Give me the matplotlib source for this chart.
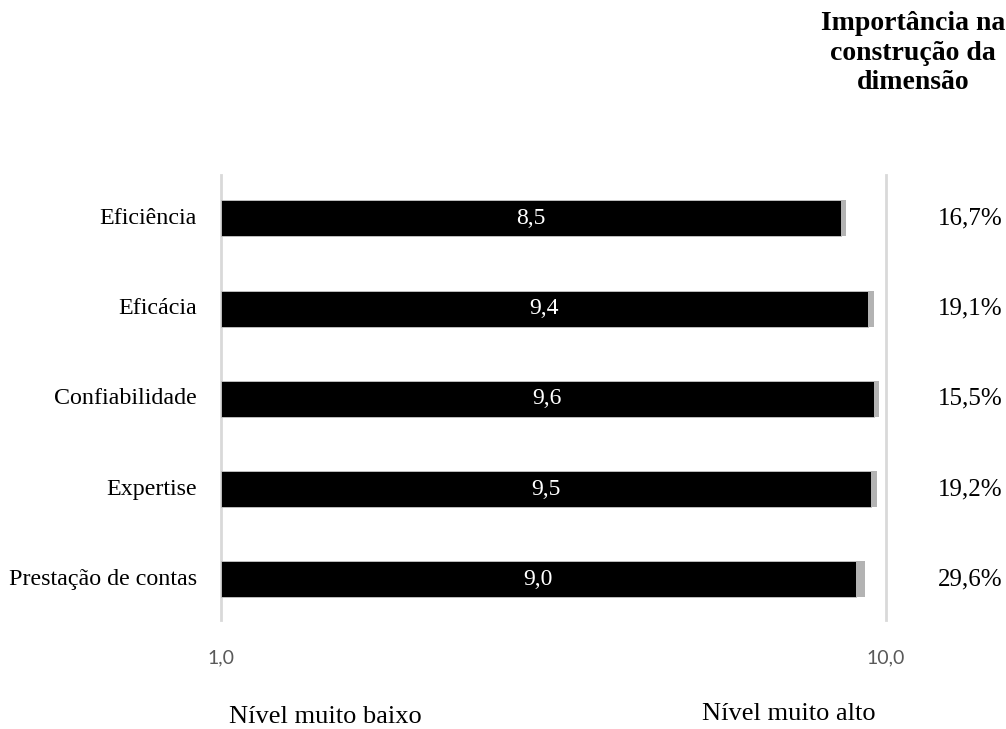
import matplotlib.pyplot as plt
from matplotlib import transforms as mtrans

# data
categories = ["Eficiência", "Eficácia", "Confiabilidade", "Expertise", "Prestação de contas"]
scores = [8.5, 9.4, 9.6, 9.5, 9.0]
score_labels = ["8,5", "9,4", "9,6", "9,5", "9,0"]
spread = [0.19, 0.20, 0.17, 0.20, 0.31]
importance = ["16,7%", "19,1%", "15,5%", "19,2%", "29,6%"]

# the visible scale runs from "1,0" to "10,0"
x_low, x_high = -11.93, 10.0
tick_labels = ["1,0", "10,0"]

SERIF = "Liberation Serif"
W, H = 1006, 729

fig = plt.figure(figsize=(W / 100, H / 100), dpi=100)
ax = fig.add_axes([221 / W, (H - 620) / H, 665 / W, 445 / H])

y = list(range(len(categories)))
ax.barh(y, [s - x_low for s in scores], left=x_low, height=0.4,
	color="black", edgecolor="#c8c8c8", linewidth=0.6, zorder=3)
ax.barh(y, spread, left=scores, height=0.4, color="#b3b3b3", zorder=3)

for xv in (x_low, x_high):
	ax.axvline(xv, color="#d9d9d9", lw=2, clip_on=False, zorder=1)

ax.set_xlim(x_low, x_high)
ax.set_ylim(4.45, -0.48)
for s in ax.spines.values():
	s.set_visible(False)
ax.set_xticks([])
ax.set_yticks([])

row = mtrans.blended_transform_factory(ax.transAxes, ax.transData)

# labels inside bars, centred on the visible bar
for i, (s, lab) in enumerate(zip(scores, score_labels)):
	ax.text((s + x_low) / 2, i, lab, color="white", ha="center", va="center",
		family=SERIF, fontsize=17, zorder=4)

# category names
for i, c in enumerate(categories):
	ax.text(-0.036, i, c, transform=row, ha="right", va="center", family=SERIF, fontsize=17.3)

# importance column
for i, p in enumerate(importance):
	ax.text(1.126, i, p, transform=row, ha="center", va="center", family=SERIF, fontsize=18)

fig.text(913 / W, 1 - 53 / H, "Importância na\nconstrução da\ndimensão", ha="center", va="center",
	family=SERIF, fontsize=20, fontweight="bold", linespacing=1.24)

# scale ends
for xv, lab in zip((x_low, x_high), tick_labels):
	ax.text(xv, -0.085, lab, transform=mtrans.blended_transform_factory(ax.transData, ax.transAxes),
		ha="center", va="center", family="Lato", fontsize=14, color="#595959")

fig.text(325 / W, 1 - 717 / H, "Nível muito baixo", ha="center", va="center", family=SERIF, fontsize=19)
fig.text(789 / W, 1 - 714 / H, "Nível muito alto", ha="center", va="center", family=SERIF, fontsize=19)

fig.savefig("out.png", dpi=100)
